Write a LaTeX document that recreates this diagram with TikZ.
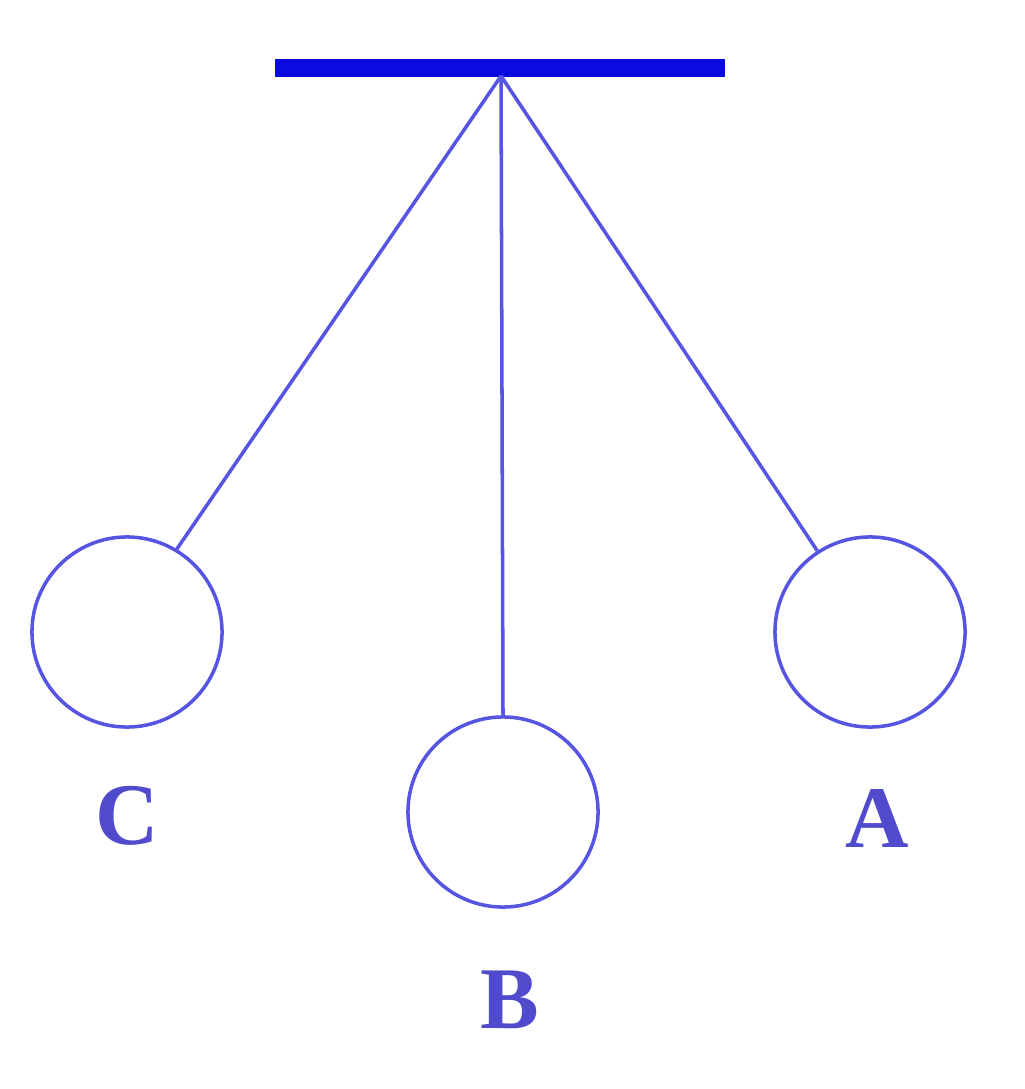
\documentclass[tikz,border=0pt]{standalone}
\usepackage{fontspec}
\setmainfont{Liberation Serif}
\begin{document}
\begin{tikzpicture}[x=0.01cm,y=-0.01cm,
  bar/.style={line width=5pt,draw=barblue},
  string/.style={line width=1pt,draw=lineblue},
  bob/.style={circle,draw=lineblue,line width=1pt,minimum size=1.9cm,inner sep=0pt},
  lbl/.style={text=lblblue,font=\fontsize{25}{28}\selectfont\bfseries,inner sep=0pt}]
\definecolor{barblue}{RGB}{10,10,225}
\definecolor{lineblue}{RGB}{85,85,225}
\definecolor{lblblue}{RGB}{80,75,205}
\useasboundingbox (0,0) rectangle (1024,1089);
\coordinate (L) at (275,68);
\coordinate (R) at (725,68);
\coordinate (P) at (501,76);
\draw[bar] (L) -- (R);
\node[bob] (C) at (127,632) {};
\node[bob] (B) at (503,812) {};
\node[bob] (A) at (870,632) {};
\draw[string] (P) -- (C.59);
\draw[string] (P) -- (B.north);
\draw[string] (P) -- (A.123);
\node[lbl] (lc) at (127,816) {C};
\node[lbl] (lb) at (510,1000) {B};
\node[lbl] (la) at (877,818) {A};
\end{tikzpicture}
\end{document}
